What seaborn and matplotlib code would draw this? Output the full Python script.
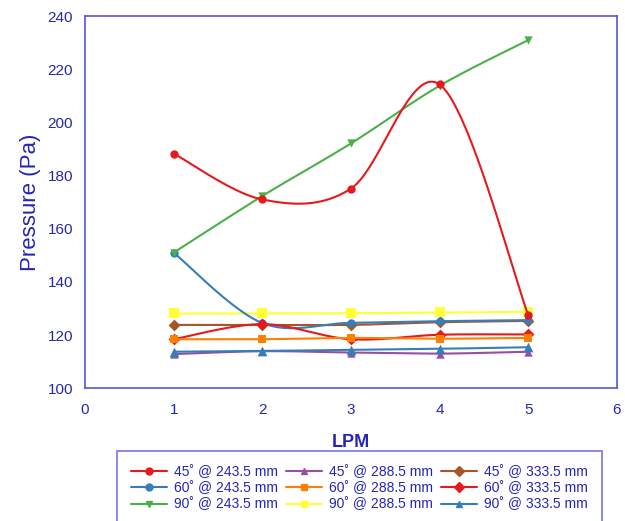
import numpy as np
import pandas as pd
import matplotlib
matplotlib.use("Agg")
import matplotlib.pyplot as plt
import seaborn as sns

# Flow rate (LPM)
lpm = [1, 2, 3, 4, 5]

# Pressure (Pa) for each nozzle angle and distance
p45_2435 = [188.3, 171.0, 175.1, 214.3, 127.5]
p60_2435 = [151.0, 124.5, 124.6, 125.2, 125.6]
p90_2435 = [151.0, 172.3, 192.1, 213.8, 231.0]
p45_2885 = [112.8, 113.9, 113.4, 113.0, 113.7]
p60_2885 = [118.4, 118.4, 118.9, 118.6, 118.9]
p90_2885 = [128.1, 128.1, 128.2, 128.5, 128.7]
p45_3335 = [123.8, 123.8, 123.8, 124.8, 125.3]
p60_3335 = [118.4, 124.1, 118.4, 120.1, 120.2]
p90_3335 = [113.7, 114.0, 114.4, 114.8, 115.4]

labels = [
    "45˚ @ 243.5 mm", "60˚ @ 243.5 mm", "90˚ @ 243.5 mm",
    "45˚ @ 288.5 mm", "60˚ @ 288.5 mm", "90˚ @ 288.5 mm",
    "45˚ @ 333.5 mm", "60˚ @ 333.5 mm", "90˚ @ 333.5 mm",
]
values = [p45_2435, p60_2435, p90_2435,
          p45_2885, p60_2885, p90_2885,
          p45_3335, p60_3335, p90_3335]

pal = sns.color_palette("Set1")
colors = [pal[0], pal[1], pal[2],
          pal[3], pal[4], pal[5],
          pal[6], pal[0], pal[1]]
markers = ["o", "o", "v", "^", "s", "s", "D", "D", "^"]
msizes = [6, 6, 6, 6, 6, 7, 6, 6, 7]

df = pd.DataFrame(
    [(lab, x, y) for lab, ys in zip(labels, values) for x, y in zip(lpm, ys)],
    columns=["series", "LPM", "Pressure"],
)


def smooth(xs, ys, n=40):
    """Catmull-Rom style cubic Bezier through the points."""
    xs = np.asarray(xs, float)
    ys = np.asarray(ys, float)
    pts = np.column_stack([xs, ys])
    out = []
    for i in range(len(pts) - 1):
        p0 = pts[i - 1] if i > 0 else pts[i]
        p1 = pts[i]
        p2 = pts[i + 1]
        p3 = pts[i + 2] if i + 2 < len(pts) else pts[i + 1]
        c1 = p1 + (p2 - p0) / 6.0
        c2 = p2 - (p3 - p1) / 6.0
        t = np.linspace(0, 1, n)[:, None]
        seg = ((1 - t) ** 3) * p1 + 3 * ((1 - t) ** 2) * t * c1 \
            + 3 * (1 - t) * t ** 2 * c2 + t ** 3 * p2
        out.append(seg if i == 0 else seg[1:])
    seg = np.vstack(out)
    return seg[:, 0], seg[:, 1]


sns.set_style("white")
plt.rcParams["font.family"] = ["Liberation Sans", "DejaVu Sans"]

fig = plt.figure(figsize=(6.25, 5.21), dpi=100)
ax = fig.add_axes([0.136, 0.255, 0.851, 0.714])

axis_col = "#5555DD"
text_col = "#2525B5"

# draw order: back to front
order = [5, 6, 1, 7, 4, 3, 8, 2, 0]
handles = {}
for i in order:
    lab = labels[i]
    sub = df[df["series"] == lab]
    sx, sy = smooth(sub["LPM"], sub["Pressure"])
    ax.plot(sx, sy, color=colors[i], lw=1.5, zorder=2 + order.index(i))
    sns.scatterplot(x=sub["LPM"], y=sub["Pressure"], ax=ax, color=colors[i],
                    marker=markers[i], s=msizes[i] ** 2, edgecolor=colors[i],
                    linewidth=0, zorder=3 + order.index(i), legend=False)
    handles[i] = plt.Line2D([], [], color=colors[i], marker=markers[i],
                            markersize=5, lw=1.5, label=lab)

ax.set_xlim(0, 6)
ax.set_ylim(100, 240)
ax.set_xticks(range(0, 7))
ax.set_yticks(range(100, 241, 20))

for s in ax.spines.values():
    s.set_color(axis_col)
    s.set_linewidth(1.2)
ax.tick_params(axis="both", colors=axis_col, labelcolor=text_col,
               labelsize=11, direction="out", length=5, width=1)
ax.tick_params(axis="x", pad=6)
ax.set_xlabel("LPM", fontsize=13, fontweight="bold", color=text_col, labelpad=12)
ax.set_ylabel("Pressure (Pa)", fontsize=16, color=text_col, labelpad=5)

leg = fig.legend(handles=[handles[i] for i in range(9)], ncol=3,
                 loc="upper center", bbox_to_anchor=(0.575, 0.147),
                 frameon=True, fancybox=False, fontsize=10,
                 handlelength=2.6, columnspacing=0.6, handletextpad=0.5,
                 labelspacing=0.15, borderpad=1.0)
leg.get_frame().set_edgecolor(axis_col)
leg.get_frame().set_linewidth(1.2)
for t in leg.get_texts():
    t.set_color(text_col)

fig.savefig("out.png", dpi=100)
